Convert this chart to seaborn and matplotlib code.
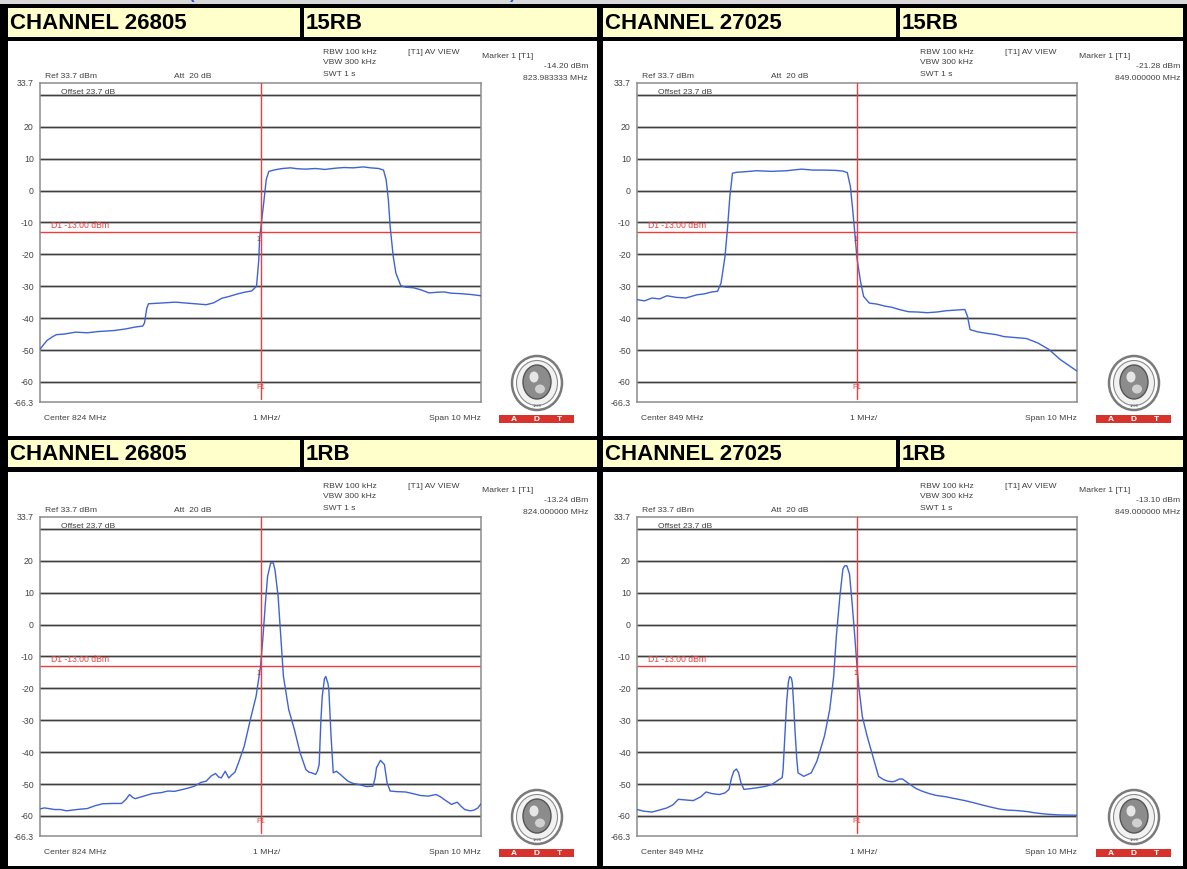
import matplotlib
matplotlib.use('Agg')
import matplotlib.pyplot as plt
from matplotlib.patches import Rectangle, Ellipse
import seaborn as sns

sns.set_style('white')
plt.rcParams['font.family'] = ['Liberation Sans', 'DejaVu Sans']

# ---- values (offset in MHz from span start, level in dBm)
ch26805_15rb_offset = [0.00, 0.07, 0.16, 0.29, 0.37, 0.55, 0.81, 1.07, 1.33, 1.68, 1.94, 2.16, 2.33,
                       2.37, 2.42, 2.46, 2.72, 3.07, 3.42, 3.77, 3.94, 4.12, 4.29, 4.46, 4.63, 4.80,
                       4.91, 4.96, 4.98, 5.03, 5.08, 5.13, 5.19, 5.33, 5.50, 5.68, 5.85, 6.03, 6.25,
                       6.46, 6.70, 6.90, 7.10, 7.33, 7.50, 7.68, 7.79, 7.85, 7.90, 7.94, 8.01, 8.07,
                       8.18, 8.29, 8.47, 8.63, 8.82, 9.00, 9.16, 9.33, 9.50, 9.77, 10.00]
ch26805_15rb_level = [-49.8, -48.5, -47.0, -45.8, -45.2, -45.0, -44.4, -44.6, -44.2, -43.9, -43.4, -42.8,
                      -42.5, -41.5, -37.0, -35.5, -35.3, -35.0, -35.4, -35.8, -35.2, -33.8, -33.2, -32.5,
                      -31.9, -31.5, -30.0, -22.0, -15.0, -9.0, -3.0, 3.5, 6.0, 6.5, 6.9, 7.1, 6.8, 6.7,
                      6.9, 6.6, 7.0, 7.2, 7.1, 7.4, 7.1, 6.9, 6.4, 3.3, -3.0, -11.3, -20.7, -25.9, -29.8,
                      -30.3, -30.5, -31.1, -32.1, -31.9, -31.8, -32.2, -32.3, -32.6, -33.0]

ch27025_15rb_offset = [0.00, 0.17, 0.34, 0.51, 0.68, 0.89, 1.11, 1.36, 1.53, 1.70, 1.83, 1.91, 2.00,
                       2.06, 2.11, 2.17, 2.26, 2.47, 2.72, 3.06, 3.40, 3.74, 4.00, 4.26, 4.51, 4.68,
                       4.78, 4.85, 4.91, 4.97, 5.00, 5.08, 5.15, 5.28, 5.45, 5.62, 5.79, 5.96, 6.17,
                       6.38, 6.60, 6.81, 7.02, 7.23, 7.45, 7.51, 7.57, 7.74, 7.96, 8.17, 8.34, 8.51,
                       8.85, 9.11, 9.36, 9.49, 9.62, 9.83, 10.00]
ch27025_15rb_level = [-34.2, -34.6, -33.7, -34.0, -33.0, -33.5, -33.7, -32.7, -32.4, -31.8, -31.6, -29.0,
                      -20.7, -11.3, -1.9, 5.4, 5.7, 5.9, 6.2, 6.0, 6.2, 6.7, 6.4, 6.4, 6.3, 6.1, 5.6,
                      1.2, -7.1, -16.5, -21.3, -28.5, -33.2, -35.3, -35.6, -36.2, -36.6, -37.3, -38.0,
                      -38.1, -38.3, -38.1, -37.7, -37.5, -37.3, -39.4, -43.6, -44.3, -44.8, -45.2,
                      -45.8, -46.0, -46.4, -47.8, -49.8, -51.4, -53.0, -55.0, -56.6]

ch26805_1rb_offset = [0.00, 0.10, 0.20, 0.33, 0.46, 0.60, 0.72, 0.90, 1.07, 1.25, 1.42, 1.65, 1.85,
                      1.95, 2.03, 2.10, 2.16, 2.35, 2.55, 2.75, 2.90, 3.05, 3.24, 3.38, 3.50, 3.65,
                      3.77, 3.88, 3.98, 4.05, 4.11, 4.20, 4.28, 4.36, 4.42, 4.50, 4.63, 4.77, 4.90,
                      5.00, 5.05, 5.11, 5.16, 5.23, 5.29, 5.33, 5.40, 5.46, 5.52, 5.64, 5.77, 5.90,
                      6.03, 6.10, 6.16, 6.25, 6.29, 6.33, 6.37, 6.40, 6.45, 6.48, 6.53, 6.55, 6.60,
                      6.65, 6.72, 6.81, 6.98, 7.10, 7.24, 7.40, 7.55, 7.60, 7.63, 7.72, 7.81, 7.87,
                      7.94, 8.10, 8.29, 8.45, 8.63, 8.80, 8.98, 9.08, 9.16, 9.33, 9.46, 9.55, 9.63,
                      9.75, 9.84, 9.93, 10.00]
ch26805_1rb_level = [-57.8, -57.5, -57.7, -58.0, -58.0, -58.4, -58.2, -57.9, -57.7, -56.8, -56.2, -56.1,
                     -56.1, -54.8, -53.3, -54.2, -54.6, -53.8, -53.0, -52.7, -52.2, -52.3, -51.7, -51.2,
                     -50.7, -49.5, -49.1, -47.5, -46.7, -47.8, -48.1, -46.0, -48.1, -47.0, -46.3, -43.4,
                     -38.2, -29.8, -22.5, -13.2, -5.0, 6.6, 15.0, 19.3, 19.3, 17.0, 8.7, -3.8, -16.3,
                     -26.7, -33.0, -40.3, -45.5, -46.3, -46.5, -47.0, -46.0, -43.9, -30.0, -22.5, -17.0,
                     -16.3, -18.5, -20.5, -35.1, -46.5, -46.0, -47.0, -49.1, -49.8, -50.2, -50.8, -50.7,
                     -48.0, -44.9, -42.6, -43.9, -49.6, -52.2, -52.4, -52.5, -53.0, -53.6, -53.8, -53.3,
                     -54.0, -54.8, -56.4, -55.7, -57.0, -58.0, -58.4, -58.2, -57.5, -56.2]

ch27025_1rb_offset = [0.00, 0.15, 0.34, 0.50, 0.68, 0.82, 0.94, 1.10, 1.28, 1.45, 1.57, 1.70, 1.87,
                      2.00, 2.09, 2.15, 2.20, 2.26, 2.31, 2.36, 2.43, 2.55, 2.72, 2.90, 3.06, 3.23,
                      3.30, 3.32, 3.36, 3.40, 3.44, 3.47, 3.51, 3.53, 3.56, 3.59, 3.63, 3.66, 3.79,
                      3.96, 4.09, 4.26, 4.38, 4.47, 4.53, 4.61, 4.68, 4.72, 4.77, 4.83, 4.89, 4.95,
                      5.00, 5.04, 5.12, 5.23, 5.36, 5.49, 5.60, 5.70, 5.80, 5.87, 5.95, 6.03, 6.12,
                      6.21, 6.34, 6.47, 6.64, 6.81, 7.02, 7.23, 7.45, 7.66, 7.88, 8.09, 8.26, 8.43,
                      8.60, 8.77, 8.90, 9.02, 9.20, 9.36, 9.60, 10.00]
ch27025_1rb_level = [-58.0, -58.5, -58.8, -58.2, -57.5, -56.5, -54.8, -55.0, -55.2, -54.0, -52.5, -53.0,
                     -53.3, -52.8, -51.7, -48.0, -46.0, -45.3, -46.5, -49.5, -51.7, -51.5, -51.2, -50.8,
                     -50.2, -48.6, -48.0, -45.5, -35.0, -24.6, -18.0, -16.3, -16.8, -18.4, -25.0, -33.0,
                     -42.0, -46.5, -47.6, -46.5, -42.8, -35.0, -26.7, -16.3, -3.8, 8.7, 17.4, 18.4,
                     18.4, 15.8, 6.6, -3.8, -13.1, -19.4, -28.8, -35.0, -41.3, -47.6, -48.6, -49.1,
                     -49.3, -49.1, -48.5, -48.4, -49.3, -50.2, -51.4, -52.2, -53.0, -53.6, -54.0, -54.6,
                     -55.2, -55.9, -56.7, -57.4, -57.9, -58.2, -58.3, -58.5, -58.7, -59.0, -59.3, -59.5,
                     -59.7, -59.8]

channels = ['CHANNEL 26805', 'CHANNEL 27025', 'CHANNEL 26805', 'CHANNEL 27025']
rb_labels = ['15RB', '15RB', '1RB', '1RB']
center_mhz = [824, 849, 824, 849]
marker_level = ['-14.20 dBm', '-21.28 dBm', '-13.24 dBm', '-13.10 dBm']
marker_freq = ['823.983333 MHz', '849.000000 MHz', '824.000000 MHz', '849.000000 MHz']
traces = [(ch26805_15rb_offset, ch26805_15rb_level), (ch27025_15rb_offset, ch27025_15rb_level),
          (ch26805_1rb_offset, ch26805_1rb_level), (ch27025_1rb_offset, ch27025_1rb_level)]

y_ticks = [33.7, 30, 20, 10, 0, -10, -20, -30, -40, -50, -60, -66.3]
y_ticklabels = ['33.7', '', '20', '10', '0', '-10', '-20', '-30', '-40', '-50', '-60', '-66.3']
grid_levels = [30, 20, 10, 0, -10, -20, -30, -40, -50, -60]
d1_limit = -13.0

# ---- layout in pixels
W, H = 1187, 869
YELLOW = '#ffffcc'
BLUE = '#3f62d4'
RED = '#f03c3c'
TXT = '#404040'

col_panel = [(8, 597), (603, 1183)]
col_cells = [[(8, 300), (304, 597)], [(603, 896), (900, 1183)]]
col_axes = [(40, 481), (637, 1077)]
col_right_text = [588, 1180]
row_header = [(8, 37), (440, 467)]
row_panel = [(41, 436), (472, 866)]
row_axes = [(83, 402), (517, 836)]

fig = plt.figure(figsize=(W / 100, H / 100), dpi=100, facecolor='black')
bg = fig.add_axes([0, 0, 1, 1])
bg.set_xlim(0, W)
bg.set_ylim(H, 0)
bg.axis('off')
bg.set_zorder(0)


def box(x0, y0, x1, y1, color, **kw):
    bg.add_patch(Rectangle((x0, y0), x1 - x0, y1 - y0, facecolor=color, edgecolor='none', **kw))


def small(x, y, s, ha='left', color=TXT, size=6.1):
    bg.text(x, y, s, ha=ha, va='center', fontsize=size, color=color)


# strip of the page above the table (its blue caption is cut by the crop)
box(0, 0, W, 3.5, '#d8d8d8')
bg.text(188, -1.5, '(', color='#2255dd', fontsize=12, fontweight='bold', va='baseline')
bg.text(510, -1.5, ')', color='#2255dd', fontsize=12, fontweight='bold', va='baseline')

for i in range(4):
    r, c = divmod(i, 2)
    px0, px1 = col_panel[c]
    hy0, hy1 = row_header[r]
    py0, py1 = row_panel[r]
    X0, X1 = col_axes[c]
    Y0, Y1 = row_axes[r]
    XR = col_right_text[c]

    # header cells
    (a0, a1), (b0, b1) = col_cells[c]
    box(a0, hy0, a1, hy1, YELLOW)
    box(b0, hy0, b1, hy1, YELLOW)
    bg.text(a0 + 2, (hy0 + hy1) / 2 + 1, channels[i], fontsize=16, fontweight='bold',
            va='center', color='black')
    bg.text(b0 + 2, (hy0 + hy1) / 2 + 1, rb_labels[i], fontsize=16, fontweight='bold',
            va='center', color='black')

    # white panel
    box(px0, py0, px1, py1, 'white')

    # analyzer annotations
    small(X0 + 5, Y0 - 7, 'Ref 33.7 dBm')
    small(X0 + 134, Y0 - 7, 'Att  20 dB')
    small(X0 + 283, Y0 - 31, 'RBW 100 kHz')
    small(X0 + 283, Y0 - 20, 'VBW 300 kHz')
    small(X0 + 283, Y0 - 9, 'SWT 1 s')
    small(X0 + 368, Y0 - 31, '[T1] AV VIEW')
    small(X0 + 442, Y0 - 27, 'Marker 1 [T1]')
    small(XR, Y0 - 16, marker_level[i], ha='right')
    small(XR, Y0 - 5, marker_freq[i], ha='right')
    small(X0 + 21, Y0 + 10, 'Offset 23.7 dB')
    small(X0 + 4, Y1 + 17, f'Center {center_mhz[i]} MHz')
    small(X0 + 213, Y1 + 17, '1 MHz/')
    small(X1, Y1 + 17, 'Span 10 MHz', ha='right')

    # test-lab logo and ADT bar
    lx, ly = X0 + 497, Y1 - 19
    bg.add_patch(Ellipse((lx, ly), 50, 54, facecolor='white', edgecolor='#7a7a7a', lw=1.8))
    bg.add_patch(Ellipse((lx, ly), 41, 45, facecolor='#f2f2f2', edgecolor='#8a8a8a', lw=0.8))
    bg.add_patch(Ellipse((lx, ly - 1), 28, 34, facecolor='#8c8c8c', edgecolor='#555555', lw=1.0))
    bg.add_patch(Ellipse((lx - 3, ly - 6), 9, 11, facecolor='#e6e6e6', edgecolor='none'))
    bg.add_patch(Ellipse((lx + 3, ly + 6), 10, 9, facecolor='#d0d0d0', edgecolor='none'))
    bg.text(lx, ly + 23, '1828', fontsize=3, color='#666666', ha='center', va='center')
    box(X0 + 459, Y1 + 13, X0 + 534, Y1 + 21, '#d8322d')
    for frac, letter in zip([0.2, 0.5, 0.8], ['A', 'D', 'T']):
        bg.text(X0 + 459 + 75 * frac, Y1 + 17.3, letter, fontsize=6, color='white',
                fontweight='bold', ha='center', va='center')

    # spectrum axes
    ax = fig.add_axes([X0 / W, 1 - Y1 / H, (X1 - X0) / W, (Y1 - Y0) / H])
    ax.set_zorder(2)
    ax.patch.set_alpha(0)
    ax.set_xlim(0, 10)
    ax.set_ylim(-66.3, 33.7)
    for lvl in grid_levels:
        ax.axhline(lvl, color='#c4c4c4', lw=2.0, zorder=1)
        ax.axhline(lvl, color='#404040', lw=0.9, zorder=1.1)
    ax.axhline(d1_limit, color=RED, lw=1.0, zorder=2)
    ax.text(0.25, d1_limit + 0.6, 'D1 -13.00 dBm', color=RED, fontsize=6.2, va='bottom')

    offs, lev = traces[i]
    sns.lineplot(x=offs, y=lev, ax=ax, color=BLUE, lw=1.0, estimator=None, sort=False,
                 legend=False, zorder=3)

    ax.plot([5, 5], [33.7, -65.3], color=RED, lw=1.0, zorder=4)
    ax.text(5, -61.8, 'F1', color=RED, fontsize=5.5, ha='center', va='center', zorder=5)
    ax.text(4.96, -15.5, '1', color='#c02020', fontsize=5, ha='center', va='center', zorder=5)

    ax.set_yticks(y_ticks)
    ax.set_yticklabels(y_ticklabels)
    ax.set_xticks(range(11))
    ax.set_xticklabels([])
    ax.set_xlabel('')
    ax.set_ylabel('')
    ax.tick_params(axis='y', direction='out', length=3.5, width=0.8, color='#777777',
                   labelsize=6.3, labelcolor='#444444', pad=1)
    ax.tick_params(axis='x', direction='out', length=4, width=0.9, color='#666666')
    for sp in ax.spines.values():
        sp.set_color('#8c8c8c')
        sp.set_linewidth(1.1)

fig.savefig('out.png', dpi=100, facecolor='black')
